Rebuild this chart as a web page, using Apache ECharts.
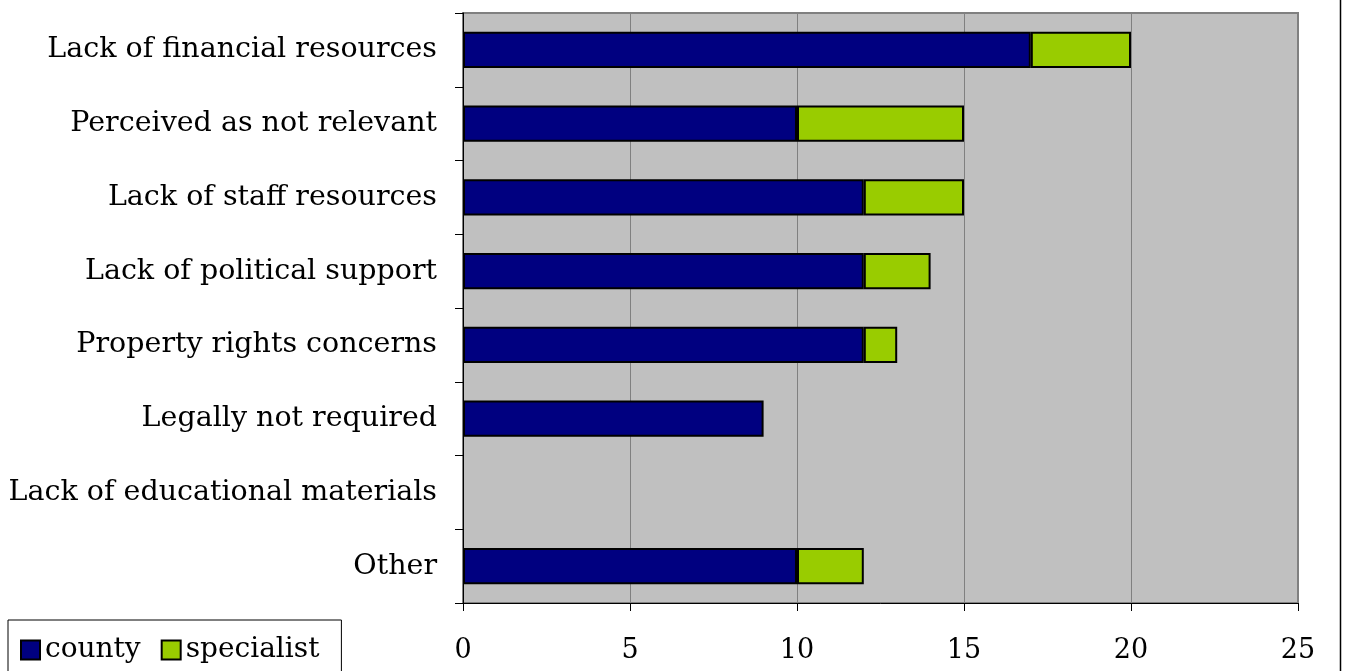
<!DOCTYPE html>
<html>
<head>
<meta charset="utf-8">
<style>
  html, body { margin: 0; padding: 0; background: #fff; }
  #chart { width: 1346px; height: 671px; }
</style>
<script src="https://cdn.jsdelivr.net/npm/echarts@6/dist/echarts.min.js"></script>
</head>
<body>
<div id="chart"></div>
<script>
// Reasons given, top to bottom
const categories = [
  'Lack of financial resources',
  'Perceived as not relevant',
  'Lack of staff resources',
  'Lack of political support',
  'Property rights concerns',
  'Legally not required',
  'Lack of educational materials',
  'Other'
];
const countyValues     = [17, 10, 12, 12, 12, 9, 0, 10];
const specialistValues = [3, 5, 3, 2, 1, 0, 0, 2];
const xTicks = [0, 5, 10, 15, 20, 25];

const labelFont = 'DejaVu Serif';

// zero-length segments are left out so no outline is drawn for them
const asBars = arr => arr.map(v => (v === 0 ? null : v));

const chart = echarts.init(document.getElementById('chart'), null, { renderer: 'canvas' });

chart.setOption({
  animation: false,
  backgroundColor: '#ffffff',
  grid: {
    left: 463, right: 48, top: 13, bottom: 68,
    show: true,
    backgroundColor: '#C0C0C0',
    borderColor: '#808080',
    borderWidth: 2
  },
  legend: {
    left: 8, top: 620,
    padding: [16, 22, 20, 12],
    borderColor: '#000', borderWidth: 1,
    itemWidth: 19, itemHeight: 19, itemGap: 20,
    icon: 'rect',
    textStyle: { fontFamily: labelFont, fontSize: 28, color: '#000' },
    data: ['county', 'specialist']
  },
  xAxis: {
    type: 'value',
    min: xTicks[0], max: xTicks[xTicks.length - 1], interval: 5,
    axisLine: { show: true, lineStyle: { color: '#000', width: 1 } },
    axisTick: { show: true, length: 8, lineStyle: { color: '#000' } },
    splitLine: { show: true, lineStyle: { color: '#808080', width: 1 } },
    axisLabel: { fontFamily: labelFont, fontSize: 27, color: '#000', margin: 34 }
  },
  yAxis: {
    type: 'category',
    inverse: true,
    data: categories,
    axisLine: { show: true, lineStyle: { color: '#000', width: 1 } },
    axisTick: { show: true, length: 8, lineStyle: { color: '#000' } },
    axisLabel: { fontFamily: labelFont, fontSize: 28.5, color: '#000', margin: 26 }
  },
  series: [
    {
      name: 'county', type: 'bar', stack: 'total',
      data: asBars(countyValues),
      barCategoryGap: '51%',
      itemStyle: { color: '#000080', borderColor: '#000', borderWidth: 2 }
    },
    {
      name: 'specialist', type: 'bar', stack: 'total',
      data: asBars(specialistValues),
      itemStyle: { color: '#99CC00', borderColor: '#000', borderWidth: 2 }
    }
  ],
  graphic: [
    {
      type: 'line',
      shape: { x1: 1340.5, y1: 0, x2: 1340.5, y2: 671 },
      style: { stroke: '#000', lineWidth: 1.5 }
    }
  ]
});
</script>
</body>
</html>
